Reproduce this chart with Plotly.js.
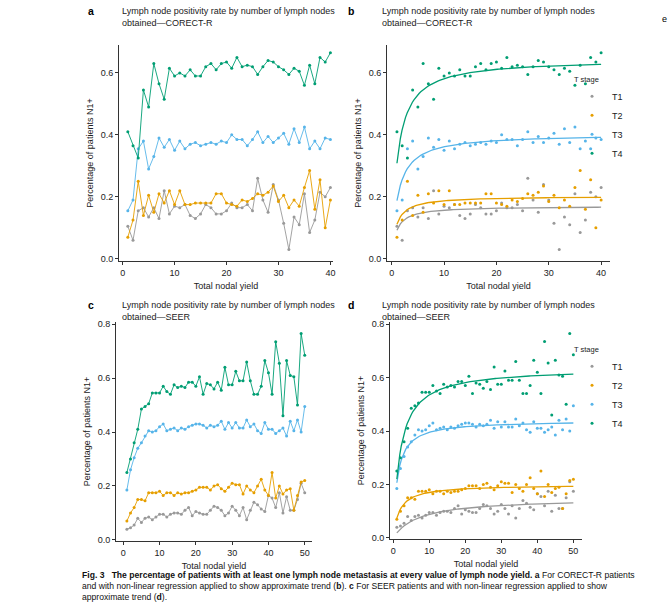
<!DOCTYPE html>
<html><head><meta charset="utf-8">
<script src="https://cdn.plot.ly/plotly-3.0.1.min.js"></script>
<style>body{margin:0;background:#fff}#fig{width:669px;height:612px}</style>
</head><body><div id="fig"></div>
<script>
// CORECT-R: nodal yield 1..40
const xC=Array.from({length:40},(_,i)=>i+1);
const cT1=[0.105,0.06,0.155,0.165,0.135,0.165,0.13,0.22,0.145,0.17,0.165,0.175,0.14,0.13,0.145,0.175,0.165,0.145,0.145,0.155,0.18,0.165,0.165,0.175,0.155,0.26,0.19,0.15,0.24,0.19,0.115,0.03,0.135,0.11,0.21,0.085,0.125,0.215,0.20,0.23];
const cT2=[0.07,0.125,0.25,0.14,0.205,0.15,0.21,0.18,0.22,0.175,0.22,0.175,0.175,0.18,0.18,0.18,0.18,0.21,0.21,0.18,0.175,0.17,0.19,0.185,0.195,0.21,0.205,0.215,0.235,0.185,0.205,0.165,0.19,0.17,0.23,0.285,0.16,0.255,0.10,0.19];
const cT3=[0.155,0.19,0.355,0.38,0.29,0.33,0.39,0.36,0.385,0.35,0.38,0.355,0.37,0.375,0.365,0.37,0.375,0.37,0.38,0.375,0.40,0.385,0.385,0.365,0.385,0.41,0.375,0.395,0.375,0.39,0.405,0.37,0.42,0.375,0.425,0.355,0.38,0.355,0.39,0.385];
const cT4=[0.41,0.365,0.325,0.545,0.49,0.63,0.565,0.515,0.615,0.59,0.60,0.59,0.61,0.59,0.59,0.62,0.63,0.61,0.63,0.635,0.615,0.65,0.62,0.625,0.62,0.595,0.62,0.64,0.635,0.62,0.61,0.595,0.615,0.605,0.56,0.625,0.565,0.65,0.635,0.665];
// SEER: nodal yield 1..50
const xS=Array.from({length:50},(_,i)=>i+1);
const sT1=[0.04,0.045,0.055,0.08,0.065,0.08,0.085,0.075,0.085,0.095,0.095,0.085,0.095,0.10,0.10,0.095,0.11,0.12,0.09,0.105,0.10,0.095,0.095,0.11,0.125,0.12,0.11,0.09,0.10,0.125,0.11,0.09,0.12,0.075,0.11,0.14,0.13,0.115,0.105,0.165,0.155,0.12,0.175,0.10,0.16,0.11,0.11,0.15,0.21,0.175];
const sT2=[0.07,0.10,0.12,0.15,0.15,0.145,0.175,0.175,0.175,0.18,0.165,0.175,0.175,0.165,0.175,0.17,0.175,0.175,0.18,0.185,0.195,0.195,0.195,0.185,0.20,0.205,0.19,0.18,0.195,0.21,0.205,0.205,0.17,0.20,0.185,0.175,0.20,0.225,0.185,0.165,0.25,0.155,0.20,0.17,0.185,0.19,0.11,0.165,0.215,0.22];
const sT3=[0.185,0.26,0.305,0.34,0.36,0.385,0.405,0.40,0.405,0.42,0.43,0.405,0.41,0.415,0.405,0.415,0.41,0.42,0.425,0.43,0.43,0.425,0.415,0.425,0.42,0.425,0.44,0.41,0.435,0.415,0.435,0.415,0.415,0.445,0.42,0.43,0.405,0.395,0.435,0.41,0.41,0.395,0.405,0.415,0.385,0.44,0.405,0.445,0.40,0.495];
const sT4=[0.25,0.30,0.36,0.41,0.485,0.495,0.505,0.545,0.545,0.545,0.57,0.55,0.54,0.575,0.565,0.57,0.565,0.585,0.585,0.57,0.605,0.54,0.58,0.575,0.56,0.585,0.555,0.64,0.575,0.575,0.625,0.59,0.59,0.66,0.59,0.54,0.54,0.57,0.665,0.62,0.54,0.735,0.655,0.46,0.665,0.61,0.605,0.50,0.765,0.685];
const stages=["T1","T2","T3","T4"];
const cols=["#999999","#E69F00","#56B4E9","#009E73"];

// non-linear regression y = V*x/(K+x), least squares over K grid
function fit(x,y){
  let best={sse:Infinity};
  for(let K=0.01;K<20;K+=0.01){
    const f=x.map(t=>t/(K+t));
    const V=f.reduce((s,fi,i)=>s+fi*y[i],0)/f.reduce((s,fi)=>s+fi*fi,0);
    const sse=f.reduce((s,fi,i)=>s+(V*fi-y[i])**2,0);
    if(sse<best.sse) best={sse,K,V};
  }
  const xs=[],ys=[],x0=x[0],x1=x[x.length-1];
  for(let i=0;i<=120;i++){const t=x0+(x1-x0)*i/120; xs.push(t); ys.push(best.V*t/(best.K+t));}
  return {xs,ys};
}

const traces=[];
const C=[cT1,cT2,cT3,cT4], S=[sT1,sT2,sT3,sT4];
C.forEach((y,i)=>traces.push({x:xC,y,xaxis:"x",yaxis:"y",mode:"lines+markers",line:{color:cols[i],width:0.9},marker:{size:3,color:cols[i]},showlegend:false}));
C.forEach((y,i)=>{const f=fit(xC,y);
  traces.push({x:xC,y,xaxis:"x2",yaxis:"y2",mode:"markers",marker:{size:3,color:cols[i]},name:stages[i],legend:"legend"});
  traces.push({x:f.xs,y:f.ys,xaxis:"x2",yaxis:"y2",mode:"lines",line:{color:cols[i],width:1.3},showlegend:false});});
S.forEach((y,i)=>traces.push({x:xS,y,xaxis:"x3",yaxis:"y3",mode:"lines+markers",line:{color:cols[i],width:0.9},marker:{size:3,color:cols[i]},showlegend:false}));
S.forEach((y,i)=>{const f=fit(xS,y);
  traces.push({x:xS,y,xaxis:"x4",yaxis:"y4",mode:"markers",marker:{size:3,color:cols[i]},name:stages[i],legend:"legend2"});
  traces.push({x:f.xs,y:f.ys,xaxis:"x4",yaxis:"y4",mode:"lines",line:{color:cols[i],width:1.3},showlegend:false});});

const W=669,H=612, px=v=>v/W, py=v=>1-v/H;
const fnt={family:"Liberation Sans, Arial, sans-serif",size:9,color:"#222"};
function ax(dom,range,dt,anchor,title){return {domain:dom,range,dtick:dt,anchor,showline:true,linecolor:"#333",linewidth:1,
  ticks:"outside",ticklen:3,tickcolor:"#333",showgrid:false,zeroline:false,tickfont:fnt,
  title:{text:title,font:fnt,standoff:5}};}
const yt="Percentage of patients N1+", xt="Total nodal yield";
const title="Lymph node positivity rate by number of lymph nodes<br>obtained\u2014";
const ann=[];
function head(letter,x,y,src){
  ann.push({text:"<b>"+letter+"</b>",x:px(x),y:py(y),xref:"paper",yref:"paper",showarrow:false,xanchor:"left",yanchor:"middle",font:{...fnt,size:10.5,color:"#000"}});
  ann.push({text:title+src,x:px(x+34),y:py(y-7),xref:"paper",yref:"paper",showarrow:false,xanchor:"left",yanchor:"top",align:"left",font:{...fnt,size:9}});
}
head("a",86,11,"CORECT-R"); head("b",346,11,"CORECT-R");
head("c",86,305,"SEER"); head("d",346,305,"SEER");
ann.push({text:"<b>Fig. 3</b>   <b>The percentage of patients with at least one lymph node metastasis at every value of lymph node yield. a</b> For CORECT-R patients<br>and with non-linear regression applied to show approximate trend (<b>b</b>). <b>c</b> For SEER patients and with non-linear regression applied to show<br>approximate trend (<b>d</b>).",
  x:px(80),y:py(568),xref:"paper",yref:"paper",showarrow:false,xanchor:"left",yanchor:"top",align:"left",font:{...fnt,size:8.6,color:"#111"}});
ann.push({text:"e",x:1,y:py(12),xref:"paper",yref:"paper",showarrow:false,xanchor:"right",font:{...fnt,size:9,color:"#000"}});

const leg=(x,y)=>({x:px(x),y:py(y),xanchor:"left",yanchor:"top",bgcolor:"rgba(0,0,0,0)",font:{...fnt,size:9},
  title:{text:"T stage",font:{...fnt,size:7.5}},itemwidth:30,tracegroupgap:0});
const layout={width:W,height:H,margin:{l:0,r:0,t:0,b:0},paper_bgcolor:"#fff",plot_bgcolor:"#fff",font:fnt,
  xaxis:ax([px(119),px(333)],[-0.7,40.5],10,"y",xt),
  yaxis:ax([py(261),py(45)],[-0.007,0.69],0.2,"x",yt),
  xaxis2:ax([px(387),px(610)],[-0.9,41.7],10,"y2",xt),
  yaxis2:ax([py(261),py(45)],[-0.007,0.69],0.2,"x2",yt),
  xaxis3:ax([px(116),px(312)],[-2,52],10,"y3",xt),
  yaxis3:ax([py(541),py(322)],[-0.004,0.808],0.2,"x3",yt),
  xaxis4:ax([px(390),px(582)],[-0.9,52.4],10,"y4",xt),
  yaxis4:ax([py(539),py(322)],[-0.004,0.808],0.2,"x4",yt),
  legend:leg(572,72), legend2:leg(572,342),
  annotations:ann};
["yaxis","yaxis2","yaxis3","yaxis4"].forEach(k=>layout[k].tickformat=".1f");
Plotly.newPlot("fig",traces,layout,{displayModeBar:false,staticPlot:true});
</script></body></html>
